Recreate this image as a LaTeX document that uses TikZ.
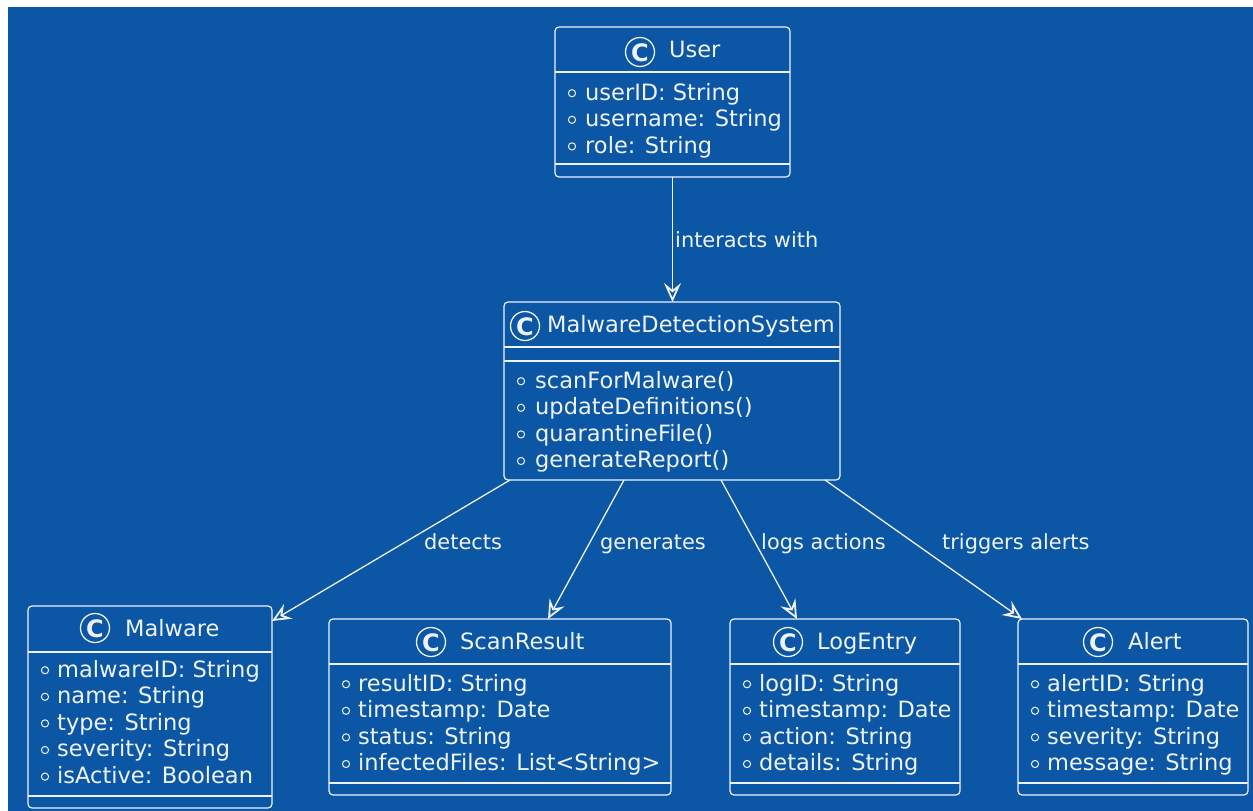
\documentclass[tikz,border=0pt]{standalone}
\usepackage{fontspec}
\setmainfont{DejaVu Sans}
\usetikzlibrary{arrows.meta,calc}
\definecolor{umlbg}{RGB}{11,86,165}
\definecolor{umlfg}{RGB}{240,244,250}

\tikzset{
  classbox/.style={draw=umlfg, line width=1.2pt, rounded corners=4pt, inner sep=0pt, outer sep=0pt, anchor=north west},
  sepline/.style={draw=umlfg, line width=1.2pt},
  member/.style={text=umlfg, anchor=base west, inner sep=0pt, font=\fontsize{22.5}{27}\selectfont},
  cname/.style={text=umlfg, anchor=base west, inner sep=0pt, font=\fontsize{22.5}{27}\selectfont},
  ciconring/.style={draw=umlfg, line width=1.3pt},
  ciconletter/.style={text=umlfg, inner sep=0pt, font=\fontsize{24}{24}\selectfont\bfseries},
  bullet/.style={draw=umlfg, line width=1pt},
  rel/.style={draw=umlfg, line width=1.3pt, -{Stealth[open, length=19pt, width=17pt, inset=7pt, line width=1.8pt]}},
  rellabel/.style={text=umlfg, anchor=base west, inner sep=0pt, font=\fontsize{20.9}{25}\selectfont},
}

% class header: icon centre x, icon centre y, name x, name baseline, name
\newcommand{\classhead}[5]{%
  \draw[ciconring] (#1,#2) circle (14.5pt);
  \node[ciconletter] at (#1,#2+0.5) {C};
  \node[cname] at (#3,#4) {#5};
}
% member rows: bullet x, text x, first baseline, list
\newcommand{\memberrows}[4]{%
  \foreach \t [count=\i] in {#4} {
    \node[member] at (#2,{#3+26.6*(\i-1)}) {\t};
    \draw[bullet] (#1,{#3+26.6*(\i-1)-6.8}) circle (3.6pt);
  }
}

\begin{document}
\begin{tikzpicture}[x=1pt,y=-1pt]
\useasboundingbox (0,0) rectangle (1253,811);
\fill[white] (0,0) rectangle (1253,811);
\fill[umlbg] (8,7) rectangle (1253,811);

% ---- class boxes ----
\node[classbox, minimum width=235pt, minimum height=150pt] (user) at (555,27) {};
\node[classbox, minimum width=336pt, minimum height=178pt] (mds) at (504,302) {};
\node[classbox, minimum width=244pt, minimum height=202pt] (mal) at (28,606) {};
\node[classbox, minimum width=342pt, minimum height=176pt] (scan) at (329,619) {};
\node[classbox, minimum width=230pt, minimum height=176pt] (log) at (730,619) {};
\node[classbox, minimum width=230pt, minimum height=176pt] (alert) at (1018,619) {};

% ---- compartment separators ----
\draw[sepline] (555,72) -- (790,72);
\draw[sepline] (555,164) -- (790,164);
\draw[sepline] (504,347) -- (840,347);
\draw[sepline] (504,361) -- (840,361);
\draw[sepline] (28,652) -- (272,652);
\draw[sepline] (28,796) -- (272,796);
\draw[sepline] (329,664) -- (671,664);
\draw[sepline] (329,783) -- (671,783);
\draw[sepline] (730,664) -- (960,664);
\draw[sepline] (730,783) -- (960,783);
\draw[sepline] (1018,664) -- (1248,664);
\draw[sepline] (1018,783) -- (1248,783);

% ---- headers ----
\classhead{640}{52}{669}{57}{User}
\classhead{525}{326}{547}{332}{MalwareDetectionSystem}
\classhead{95}{628}{125}{636}{Malware}
\classhead{431}{642}{460}{649}{ScanResult}
\classhead{788}{642}{817}{649}{LogEntry}
\classhead{1098}{642}{1128}{649}{Alert}

% ---- members ----
\memberrows{572}{585}{100}{userID: String, username: String, role: String}
\memberrows{521}{535}{388}{scanForMalware(), updateDefinitions(), quarantineFile(), generateReport()}
\memberrows{45}{57}{677}{malwareID: String, name: String, type: String, severity: String, isActive: Boolean}
\memberrows{346}{358}{691}{resultID: String, timestamp: Date, status: String, infectedFiles: List<String>}
\memberrows{747}{759}{691}{logID: String, timestamp: Date, action: String, details: String}
\memberrows{1035}{1047}{691}{alertID: String, timestamp: Date, severity: String, message: String}

% ---- relations ----
\draw[rel] (user.south) -- (user.south |- mds.north);
\draw[rel] ([xshift=6pt]mds.south west) -- ([yshift=-15pt]mal.north east);
\draw[rel] ([xshift=120pt]mds.south west) -- ([xshift=219pt]scan.north west);
\draw[rel] ([xshift=217pt]mds.south west) -- ([xshift=67pt]log.north west);
\draw[rel] ([xshift=321pt]mds.south west) -- ([xshift=4pt]alert.north west);

\node[rellabel] (l1) at (675,247) {interacts with};
\node[rellabel] (l2) at (424,549) {detects};
\node[rellabel] (l3) at (600,549) {generates};
\node[rellabel] (l4) at (761,549) {logs actions};
\node[rellabel] (l5) at (942,549) {triggers alerts};
\end{tikzpicture}
\end{document}
